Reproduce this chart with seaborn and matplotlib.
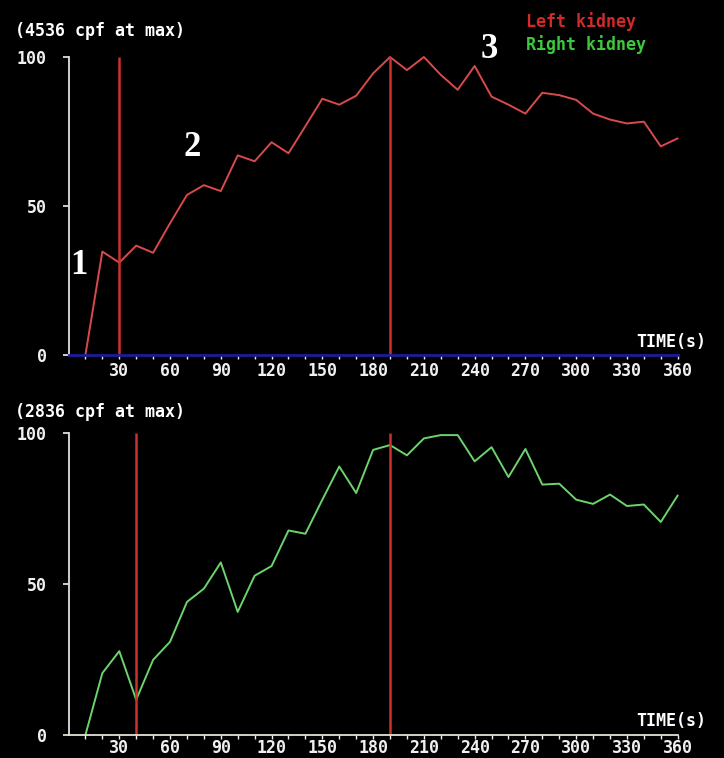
import matplotlib
matplotlib.use("Agg")
import matplotlib.pyplot as plt
import seaborn as sns
import pandas as pd

# renogram data, % of max counts every 10 s
time_s = [10, 20, 30, 40, 50, 60, 70, 80, 90, 100, 110, 120,
          130, 140, 150, 160, 170, 180, 190, 200, 210, 220, 230, 240,
          250, 260, 270, 280, 290, 300, 310, 320, 330, 340, 350, 360]
left_kidney = [0, 34.7, 31, 36.7, 34.3, 44.2, 53.7, 57, 55, 67, 65, 71.4,
               67.7, 76.8, 86, 84, 87, 94.5, 100, 95.6, 100, 94, 89, 97,
               86.7, 84, 81, 88, 87.2, 85.6, 81, 79, 77.7, 78.3, 70, 72.7]
right_kidney = [0, 20.5, 27.8, 11.7, 24.9, 30.9, 44.1, 48.5, 57.2, 40.8, 52.8, 56,
                67.8, 66.7, 78, 89, 80.2, 94.5, 96.1, 92.7, 98.3, 99.4, 99.4, 90.7,
                95.4, 85.5, 94.8, 83, 83.3, 78, 76.6, 79.7, 75.9, 76.4, 70.6, 79.4]
left_markers = [30, 190]
right_markers = [40, 190]
left_max = "(4536 cpf at max)"
right_max = "(2836 cpf at max)"
y_ticks = [0, 50, 100]
x_labels = [30, 60, 90, 120, 150, 180, 210, 240, 270, 300, 330, 360]

df = pd.DataFrame({"time": time_s, "left": left_kidney, "right": right_kidney})

sns.set_style("dark", rc={"axes.facecolor": "black", "figure.facecolor": "black"})
plt.rcParams['font.family'] = ['DejaVu Sans Mono']

W, H = 724, 758
fig = plt.figure(figsize=(W / 100, H / 100), dpi=100, facecolor="black")


def px(x, y):
    return x / W, 1 - y / H


mono = dict(family="DejaVu Sans Mono", weight="bold", fontsize=12)


def setup(ax, axis_col, axis_lw, xpad):
    ax.set_facecolor("black")
    ax.set_xlim(0, 360)
    ax.set_ylim(0, 100)
    for s in ["top", "right"]:
        ax.spines[s].set_visible(False)
    ax.spines["left"].set_color("#e0e0e0")
    ax.spines["left"].set_linewidth(1.3)
    ax.spines["bottom"].set_color(axis_col)
    ax.spines["bottom"].set_linewidth(axis_lw)
    ax.set_yticks(y_ticks)
    ax.set_yticklabels([str(v) for v in y_ticks], **mono)
    ax.set_xticks(time_s)
    ax.set_xticklabels([str(t) if t in x_labels else "" for t in time_s], **mono)
    ax.tick_params(axis="y", direction="out", length=4.5, width=1.2,
                   colors="#f0f0f0", pad=11, left=True)
    ax.tick_params(axis="x", direction="out", length=3.2, width=1.0,
                   colors="#f0f0f0", pad=xpad, bottom=True)
    ax.grid(False)


# top panel: left kidney
ax1 = fig.add_axes([68.5 / W, 1 - 355 / H, 609.2 / W, 298 / H])
setup(ax1, "#1c1c9c", 2, 2)
sns.lineplot(data=df, x="time", y="left", ax=ax1, color="#d94a4a", lw=1.4, clip_on=False)
ax1.vlines(left_markers, 0, 100, color="#cc3030", lw=1.8, clip_on=False)

# bottom panel: right kidney
ax2 = fig.add_axes([68.5 / W, 1 - 735 / H, 609.2 / W, 301.7 / H])
setup(ax2, "#e4e4d4", 1.3, 0)
sns.lineplot(data=df, x="time", y="right", ax=ax2, color="#6cd46c", lw=1.4, clip_on=False)
ax2.vlines(right_markers, 0, 100, color="#cc3030", lw=1.8, clip_on=False)
for ax in (ax1, ax2):
    ax.set_xlabel("")
    ax.set_ylabel("")

# header texts
fig.text(*px(15, 31), left_max, color="white", va="center", ha="left", **mono)
fig.text(*px(15, 412), right_max, color="white", va="center", ha="left", **mono)
fig.text(*px(706, 342), "TIME(s)", color="white", va="center", ha="right", **mono)
fig.text(*px(706, 721), "TIME(s)", color="white", va="center", ha="right", **mono)
fig.text(*px(526, 22), "Left kidney", color="#d02a2a", va="center", ha="left", **mono)
fig.text(*px(526, 45), "Right kidney", color="#3cc83c", va="center", ha="left", **mono)

# phase numbers
serif = dict(family="Liberation Serif", weight="bold", fontsize=25, color="white",
             ha="center", va="center")
fig.text(*px(79, 265), "1", **serif)
fig.text(*px(192, 148), "2", **serif)
fig.text(*px(489, 49), "3", **serif)

fig.savefig("out.png", dpi=100, facecolor="black")
